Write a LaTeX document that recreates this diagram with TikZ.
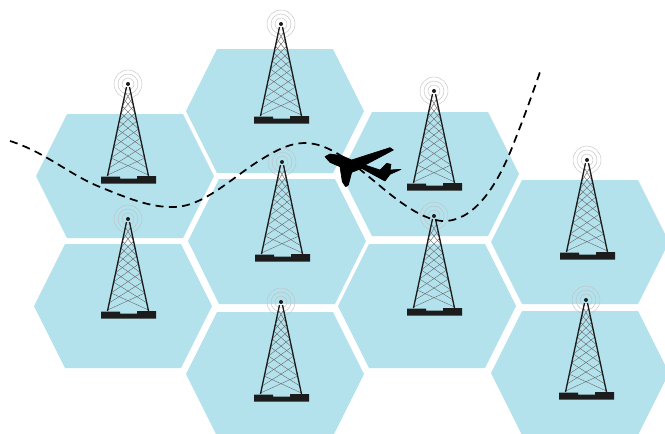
\documentclass[tikz,border=0pt]{standalone}
\definecolor{cellblue}{HTML}{B3E2ED}
\definecolor{towerdark}{HTML}{1C1C1C}
\tikzset{
  x=0.75pt,y=-0.75pt,
  cellhex/.style={fill=cellblue,draw=none},
  tower/.pic={
    \foreach \r in {14,10,6}{\draw[gray!50,line width=0.3pt] (0,0) circle[radius=\r];}
    \foreach \a/\b in {8/22,15/29,22/37,29/45,37/54,45/63,54/74,63/84,74/91}{
      \draw[black!60,line width=0.3pt] ({-0.2143*\a-1},\a) -- ({0.2143*\b+1},\b);
      \draw[black!60,line width=0.3pt] ({0.2143*\a+1},\a) -- ({-0.2143*\b-1},\b);
    }
    \draw[towerdark,line width=1pt] (-1.5,3) -- (-20.5,92);
    \draw[towerdark,line width=1pt] (1.5,3) -- (20.5,92);
    \fill[towerdark] (0,0) circle[radius=2];
    \fill[towerdark] (-27,92.5) -- (-8,92.5) -- (-8,94.5) -- (9,94.5) -- (9,92) -- (28,92) -- (28,99.5) -- (-27,99.5) -- cycle;
  }
}
\begin{document}
\begin{tikzpicture}
\useasboundingbox (0,0) rectangle (665,433);
\clip (0,0) rectangle (665,433);
\fill[white] (0,0) rectangle (665,433);
\fill[cellhex] (36,176) -- (67,114) -- (183,114) -- (214,176) -- (183,238) -- (67,238) -- cycle;
\fill[cellhex] (34,306) -- (65,244) -- (181,244) -- (212,306) -- (181,368) -- (65,368) -- cycle;
\fill[cellhex] (186,111) -- (217,49) -- (333,49) -- (364,111) -- (333,173) -- (217,173) -- cycle;
\fill[cellhex] (188,241) -- (219,179) -- (335,179) -- (366,241) -- (335,304) -- (219,304) -- cycle;
\fill[cellhex] (186,374) -- (217,312) -- (333,312) -- (364,374) -- (333,436) -- (217,436) -- cycle;
\fill[cellhex] (341,174) -- (372,112) -- (488,112) -- (519,174) -- (488,236) -- (372,236) -- cycle;
\fill[cellhex] (338,306) -- (369,244) -- (485,244) -- (516,306) -- (485,368) -- (369,368) -- cycle;
\fill[cellhex] (491,242) -- (522,180) -- (638,180) -- (669,242) -- (638,304) -- (522,304) -- cycle;
\fill[cellhex] (491,373) -- (522,311) -- (638,311) -- (669,373) -- (638,435) -- (522,435) -- cycle;
\foreach \x/\y in {128/84,128/219,281/24,282/162,281/302,434/91,434/216,587/160,586/300}{
  \pic at (\x,\y) {tower};
}
\draw[black,line width=1.3pt,dash pattern=on 6pt off 4pt]
  (10,141) .. controls (45,152) and (70,175) .. (100,187)
  .. controls (125,197) and (150,208) .. (175,207)
  .. controls (205,206) and (235,175) .. (262,159)
  .. controls (280,148) and (292,143) .. (305,143)
  .. controls (335,143) and (365,175) .. (395,198)
  .. controls (415,213) and (432,222) .. (447,221)
  .. controls (478,218) and (500,180) .. (515,140)
  .. controls (525,115) and (533,92) .. (540,72);
\begin{scope}[shift={(315,135)},scale=0.3333]
\filldraw[black,line width=0.5pt,line join=round] (30,65) -- (45,57) -- (80,62) -- (110,75) -- (225,38) -- (235,45) -- (150,90) -- (195,105) -- (215,85) -- (228,88) -- (225,105) -- (258,103) -- (225,118) -- (210,138) -- (195,130) -- (140,100) -- (110,112) -- (100,150) -- (92,155) -- (82,140) -- (75,95) -- (45,82) -- cycle;
\end{scope}
\end{tikzpicture}
\end{document}
